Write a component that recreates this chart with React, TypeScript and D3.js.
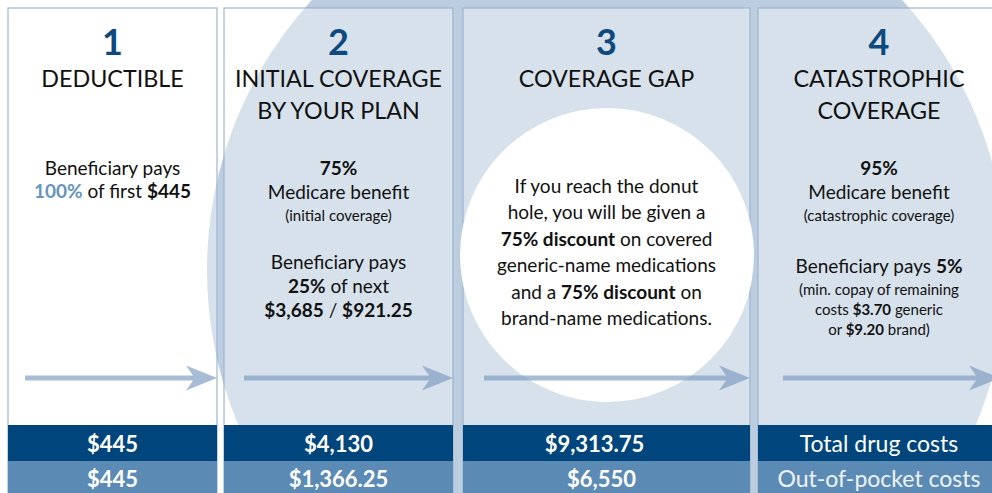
import React from "react";
import * as d3 from "d3";

const W = 992;
const H = 493;

const stageNumbers = ["1", "2", "3", "4"];
const stageTitles = [
  ["DEDUCTIBLE"],
  ["INITIAL COVERAGE", "BY YOUR PLAN"],
  ["COVERAGE GAP"],
  ["CATASTROPHIC", "COVERAGE"],
];
// **bold**, __highlight__, "" = paragraph break
const stageText = [
  ["Beneficiary pays", "__100%__ of first **$445**"],
  ["**75%**", "Medicare benefit", "(initial coverage)", "", "Beneficiary pays", "**25%** of next", "**$3,685** / **$921.25**"],
  ["If you reach the donut", "hole, you will be given a", "**75% discount** on covered", "generic-name medications", "and a **75% discount** on", "brand-name medications."],
  ["**95%**", "Medicare benefit", "(catastrophic coverage)", "", "Beneficiary pays **5%**", "(min. copay of remaining", "costs **$3.70** generic", "or **$9.20** brand)"],
];
const totalDrugCosts = ["$445", "$4,130", "$9,313.75", "Total drug costs"];
const outOfPocketCosts = ["$445", "$1,366.25", "$6,550", "Out-of-pocket costs"];

// layout
const panelLeft = [8, 224, 463, 758];
const panelRight = [217, 453, 750, 1000];
const arrowInset = [17, 20, 21, 25];
const textTop = [175, 175, 193, 175];
const leading = [23, 24, 26.4, 24];
const paraGap = [24, 24, 24, 28];
const smallLines = [[], [2], [], [2, 5, 6, 7]];
const totalShift = [0, 0, -12, 0];
const oopShift = [0, 0, -5, 0];

const font = "Lato, 'Noto Sans', sans-serif";
const navy = "#00457c";
const steel = "#5b8bb4";
const ring = "#bccddf";
const edge = "#9db5d0";

const x0 = d3.scaleOrdinal<string, number>().domain(stageNumbers).range(panelLeft);
const x1 = d3.scaleOrdinal<string, number>().domain(stageNumbers).range(panelRight);
const cx = (s: string) => (x0(s) + x1(s)) / 2;

const yTop = 8;
const yBar1 = 425;
const yBar2 = 461;
const yArrow = 378;

function parse(line: string) {
  return line.split(/(\*\*[^*]+\*\*|__[^_]+__)/).filter(Boolean).map(p => {
    if (p.startsWith("**")) return { t: p.slice(2, -2), k: "b" };
    if (p.startsWith("__")) return { t: p.slice(2, -2), k: "h" };
    return { t: p, k: "n" };
  });
}

function arrowPath(xs: number, xt: number, y: number) {
  const p = d3.path();
  p.moveTo(xs, y - 2.5);
  p.lineTo(xt - 24, y - 2.5);
  p.lineTo(xt - 31, y - 12.5);
  p.lineTo(xt, y);
  p.lineTo(xt - 31, y + 12.5);
  p.lineTo(xt - 24, y + 2.5);
  p.lineTo(xs, y + 2.5);
  p.closePath();
  return p.toString();
}

function bodyLines(i: number) {
  const out: { y: number; line: string; small: boolean }[] = [];
  let y = textTop[i];
  let first = true;
  let prevSmall = false;
  stageText[i].forEach((line, j) => {
    if (line === "") { y += paraGap[i]; return; }
    const small = smallLines[i].includes(j);
    if (!first) y += small ? (prevSmall ? 20 : 22) : leading[i];
    first = false;
    prevSmall = small;
    out.push({ y, line, small });
  });
  return out;
}

export default function App() {
  return (
    <svg width={W} height={H} style={{ position: "absolute", left: 0, top: 0 }} fontFamily={font}>
      <rect width={W} height={H} fill="#fff" />
      <circle cx={607} cy={270} r={400} fill={ring} />
      {stageNumbers.map(s => (
        <rect key={s} x={x0(s)} y={yTop} width={x1(s) - x0(s)} height={H}
          fill="#fff" fillOpacity={0.4} stroke={edge} strokeWidth={1.2} />
      ))}
      <circle cx={607} cy={255} r={147} fill="#fff" />
      {stageNumbers.map((s, i) => (
        <g key={s} textAnchor="middle">
          <text x={cx(s)} y={55} fontSize={36} fontWeight={700} fill="#0f4a7f">{s}</text>
          {stageTitles[i].map((t, j) => (
            <text key={j} x={cx(s)} y={87 + j * 32} fontSize={23.3} fill="#111">{t}</text>
          ))}
          {bodyLines(i).map((l, j) => (
            <text key={j} x={cx(s)} y={l.y} fontSize={l.small ? 15 : 19} fill="#111">
              {parse(l.line).map((p, k) => (
                <tspan key={k} fontWeight={p.k === "n" ? 400 : 700} fill={p.k === "h" ? "#6494bd" : undefined}>{p.t}</tspan>
              ))}
            </text>
          ))}
          <path d={arrowPath(x0(s) + arrowInset[i], x1(s), yArrow)} fill="#7b98c0" fillOpacity={0.65} />
          <rect x={x0(s)} y={yBar1} width={x1(s) - x0(s)} height={yBar2 - yBar1} fill={navy} />
          <rect x={x0(s)} y={yBar2} width={x1(s) - x0(s)} height={H - yBar2} fill={steel} />
          <text x={cx(s) + totalShift[i]} y={452} fontSize={i === 3 ? 23 : 22} fontWeight={i === 3 ? 400 : 700} fill="#fff">{totalDrugCosts[i]}</text>
          <text x={cx(s) + oopShift[i]} y={487} fontSize={i === 3 ? 23 : 22} fontWeight={i === 3 ? 400 : 700} fill={i === 3 ? "#eef3f8" : "#fff"}>{outOfPocketCosts[i]}</text>
        </g>
      ))}
    </svg>
  );
}
